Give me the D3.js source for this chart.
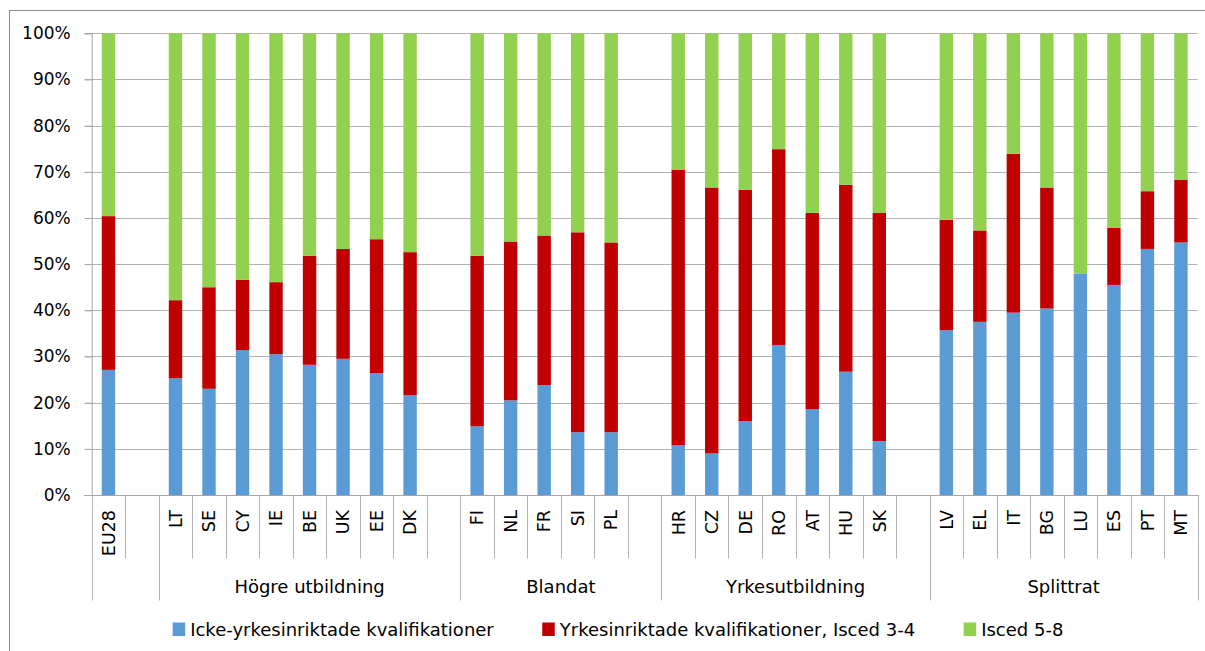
<!DOCTYPE html>
<html>
<head>
<meta charset="utf-8">
<script src="https://cdn.jsdelivr.net/npm/d3@7"></script>
<style>
  html, body { margin: 0; padding: 0; background: #fff; }
  svg { display: block; font-family: "DejaVu Sans", "Liberation Sans", sans-serif; }
</style>
</head>
<body>
<svg id="chart" width="1205" height="651"></svg>
<script>
// ---- data ----
const categories = ["EU28","","LT","SE","CY","IE","BE","UK","EE","DK","","FI","NL","FR","SI","PL","","HR","CZ","DE","RO","AT","HU","SK","","LV","EL","IT","BG","LU","ES","PT","MT"];
const groupLabels = ["", "Högre utbildning", "Blandat", "Yrkesutbildning", "Splittrat"];
const groupSizes = [2, 9, 6, 8, 8];
const seriesNames = ["Icke-yrkesinriktade kvalifikationer", "Yrkesinriktade kvalifikationer, Isced 3-4", "Isced 5-8"];
const nonVocational = [27.1,null,25.3,23.0,31.4,30.5,28.2,29.5,26.4,21.6,null,14.9,20.5,23.8,13.6,13.6,null,10.8,9.0,16.0,32.5,18.6,26.7,11.7,null,35.7,37.5,39.5,40.4,48.0,45.5,53.3,54.7];
const vocational    = [33.3,null,16.9,22.0,15.2,15.6,23.6,23.8,29.0,31.0,null,36.9,34.4,32.4,43.3,41.1,null,59.6,57.6,50.1,42.4,42.5,40.5,49.4,null,23.9,19.8,34.4,26.2,0.0,12.4,12.5,13.6];
const isced58       = [39.6,null,57.8,55.0,53.4,53.9,48.2,46.7,44.6,47.4,null,48.2,45.1,43.8,43.1,45.3,null,29.6,33.4,33.9,25.1,38.9,32.8,38.9,null,40.4,42.7,26.1,33.4,52.0,42.1,34.2,31.7];
const yTicks = [0,10,20,30,40,50,60,70,80,90,100];
const colors = ["#5B9BD5", "#C00000", "#92D050"];

(function () {
// ---- layout ----
const pLeft = 91.7, pRight = 1197.7, pTop = 33.3, pBottom = 495;
const svg = d3.select("#chart");

// outer border
svg.append("rect").attr("x", 9.5).attr("y", 10.5).attr("width", 1400).attr("height", 800)
  .attr("fill", "none").attr("stroke", "#8c8c8c").attr("stroke-width", 1);

const keys = categories.map((c, i) => i);
const x = d3.scaleBand().domain(keys).range([pLeft, pRight]).paddingInner(0.6).paddingOuter(0.3);
const y = d3.scaleLinear().domain([0, 100]).range([pBottom, pTop]);
const step = x.step();

// gridlines
svg.append("g").selectAll("line").data(yTicks).join("line")
  .attr("x1", pLeft - 7).attr("x2", pRight)
  .attr("y1", d => Math.round(y(d)) + 0.5).attr("y2", d => Math.round(y(d)) + 0.5)
  .attr("stroke", "#b3b3b3").attr("stroke-width", 1);

// y axis
const yAxis = d3.axisLeft(y).tickValues(yTicks).tickFormat(d => d + "%").tickSize(7).tickPadding(14);
const gy = svg.append("g").attr("transform", `translate(${pLeft},0)`).call(yAxis);
gy.select(".domain").attr("stroke", "#a6a6a6");
gy.selectAll(".tick line").attr("stroke", "#a6a6a6");
gy.selectAll(".tick text").attr("font-size", 17).attr("fill", "#000")
  .attr("font-family", "DejaVu Sans, sans-serif");

// stacked bars
const rows = categories.map((c, i) => ({ i, a: nonVocational[i], b: vocational[i], c: isced58[i] }));
const stack = d3.stack().keys(["a", "b", "c"]).value((d, k) => d[k] == null ? 0 : d[k]);
const stacked = stack(rows.filter(r => r.a != null));
svg.append("g").selectAll("g").data(stacked).join("g")
  .attr("fill", (d, k) => colors[k])
  .selectAll("rect").data(d => d).join("rect")
  .attr("x", d => x(d.data.i))
  .attr("width", x.bandwidth())
  .attr("y", d => y(d[1]))
  .attr("height", d => y(d[0]) - y(d[1]));

// category axis: boundary lines
const catG = svg.append("g");
const groupStarts = [];
let acc = 0;
groupSizes.forEach(s => { groupStarts.push(acc); acc += s; });
const boundaryIdx = d3.range(categories.length + 1);
catG.selectAll("line").data(boundaryIdx).join("line")
  .attr("x1", i => Math.round(pLeft + i * step) + 0.5)
  .attr("x2", i => Math.round(pLeft + i * step) + 0.5)
  .attr("y1", pBottom)
  .attr("y2", i => (i === categories.length || groupStarts.includes(i)) ? 600.5 : 558.5)
  .attr("stroke", "#b3b3b3").attr("stroke-width", 1);

// x axis baseline
svg.append("line").attr("x1", pLeft - 7).attr("x2", pRight).attr("y1", Math.round(pBottom) + 0.5).attr("y2", Math.round(pBottom) + 0.5)
  .attr("stroke", "#a6a6a6");

// country labels (rotated)
catG.selectAll("text.cat").data(categories.map((c, i) => ({ c, i })).filter(d => d.c !== "")).join("text")
  .attr("class", "cat")
  .attr("transform", d => `translate(${x(d.i) + x.bandwidth() / 2},510) rotate(-90)`)
  .attr("text-anchor", "end")
  .attr("dy", "0.36em")
  .attr("font-size", 17.5)
  .attr("fill", "#000")
  .text(d => d.c);

// group labels
catG.selectAll("text.grp").data(groupLabels.map((g, k) => ({ g, k }))).join("text")
  .attr("class", "grp")
  .attr("x", d => pLeft + (groupStarts[d.k] + groupSizes[d.k] / 2) * step)
  .attr("y", 592.5)
  .attr("text-anchor", "middle")
  .attr("font-size", 18)
  .attr("fill", "#000")
  .text(d => d.g);

// legend
const leg = svg.append("g");
const items = leg.selectAll("g").data(seriesNames).join("g");
items.append("rect").attr("width", 12.5).attr("height", 13.5).attr("y", 622.5)
  .attr("fill", (d, k) => colors[k]);
items.append("text").attr("x", 17.5).attr("y", 636).attr("font-size", 18).attr("fill", "#000").text(d => d);
const widths = [];
items.each(function () { widths.push(d3.select(this).select("text").node().getComputedTextLength() + 17.5); });
const gap = 48.5;
const total = d3.sum(widths) + gap * (widths.length - 1);
let lx = 618 - total / 2;
items.attr("transform", (d, k) => { const t = `translate(${lx},0)`; lx += widths[k] + gap; return t; });
})();
</script>
</body>
</html>
